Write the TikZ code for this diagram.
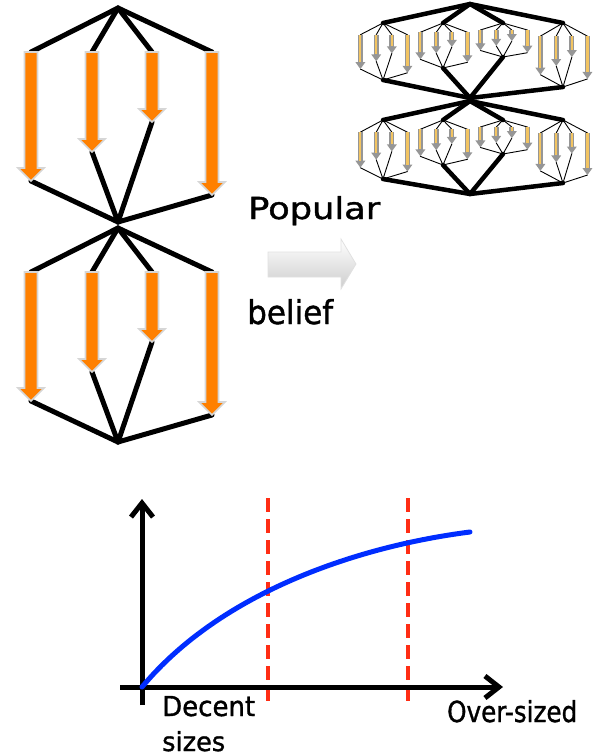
\documentclass[tikz,border=0pt]{standalone}
\usepackage{fontspec}
\setmainfont{DejaVu Sans}
\newfontfamily\lblfont{DejaVu Sans}[FakeBold=1.2]
\usetikzlibrary{arrows.meta,calc}
\definecolor{arrorange}{RGB}{255,128,0}
\definecolor{arrglow}{RGB}{214,214,214}
\definecolor{minigray}{RGB}{150,150,150}
\definecolor{miniyel}{RGB}{242,196,98}
\definecolor{curveblue}{RGB}{0,45,255}
\definecolor{dashred}{RGB}{255,45,20}
\definecolor{beliefgray}{RGB}{225,225,225}

% coordinates of one half diagram (hub at origin, bottom hub at (0,214))
\newcommand\halfpts[1]{%
  \coordinate (#1T) at (0,0);
  \coordinate (#1a1) at (-87,44);
  \coordinate (#1a2) at (-26,44);
  \coordinate (#1a3) at (34,44);
  \coordinate (#1a4) at (94,44);
  \coordinate (#1e1) at (-87,173);
  \coordinate (#1e2) at (-26,144);
  \coordinate (#1e3) at (34,114);
  \coordinate (#1e4) at (94,187);
  \coordinate (#1B) at (0,214);}
\newcommand\halflines[2]{%
  \draw[#2] (#1T) -- (#1a1);
  \draw[#2] (#1T) -- (#1a2);
  \draw[#2] (#1T) -- (#1a3);
  \draw[#2] (#1T) -- (#1a4);
  \draw[#2] (#1e1) -- (#1B);
  \draw[#2] (#1e2) -- (#1B);
  \draw[#2] (#1e3) -- (#1B);
  \draw[#2] (#1e4) -- (#1B);}
\newcommand\bigarr[2]{%
  \path[bigarrow] ($(#1)+(-6.5,0)$) -- ($(#1)+(6.5,0)$) -- ($(#2)+(6.5,-13)$)
    -- ($(#2)+(13,-13)$) -- (#2) -- ($(#2)+(-13,-13)$) -- ($(#2)+(-6.5,-13)$) -- cycle;}
\newcommand\bighalf[1]{%
  \halflines{#1}{bigline}
  \foreach \i in {1,...,4}{\bigarr{#1a\i}{#1e\i}}}
\newcommand\minihalf[1]{%
  \halflines{#1}{miniline}
  \foreach \i in {1,...,4}{%
    \draw[miniarrow] (#1a\i) -- (#1e\i);
    \draw[ministripe] (#1a\i) -- ($(#1e\i)+(0,-7)$);}}
% mini diagram: prefix, centre x, top y, bottom y
\newcommand\minidiag[4]{%
  \pgfmathsetmacro\mys{(#4-#3)/214}
  \begin{scope}[shift={(#2,#3)}, xscale=0.26, yscale=\mys]
    \halfpts{#1}
  \end{scope}
  \minihalf{#1}}

\begin{document}
\begin{tikzpicture}[x=1pt,y=-1pt,
  bigline/.style={line width=5pt, line cap=round, black},
  thickline/.style={line width=4.5pt, line cap=round, black},
  miniline/.style={line width=0.9pt, line cap=round, black},
  bigarrow/.style={fill=arrorange, draw=arrglow, line width=1.6pt, line join=miter},
  miniarrow/.style={line width=5.2pt, minigray, -{Triangle[width=9.5pt,length=7pt]}},
  ministripe/.style={line width=2.2pt, miniyel},
  axisline/.style={line width=5pt, black, -{Straight Barb[length=14pt,width=22pt]}},
  redline/.style={line width=4.5pt, dashred, dash pattern=on 14pt off 7pt},
  curve/.style={line width=5pt, curveblue, line cap=round},
  lbl/.style={anchor=base west, inner sep=0pt, font=\lblfont}]
\useasboundingbox (0,0) rectangle (601,756);

% ---------- left big diagram ----------
\begin{scope}[shift={(118,8)}]\halfpts{L}\end{scope}
\begin{scope}[shift={(118,228)}]\halfpts{M}\end{scope}
\bighalf{L}
\bighalf{M}

% ---------- top right diagram ----------
\coordinate (RT) at (470,4);
\coordinate (RM1) at (470,98);
\coordinate (RM2) at (470,101);
\coordinate (RB) at (470,194);
\minidiag{P1}{383}{23}{80}
\minidiag{P2}{443}{23}{68}
\minidiag{P3}{503}{23}{57}
\minidiag{P4}{563}{23}{87}
\minidiag{Q1}{383}{120}{179}
\minidiag{Q2}{443}{120}{165}
\minidiag{Q3}{503}{120}{154}
\minidiag{Q4}{563}{120}{183}
\foreach \i in {1,...,4}{%
  \draw[thickline] (RT) -- (P\i T);
  \draw[thickline] (P\i B) -- (RM1);
  \draw[thickline] (RM2) -- (Q\i T);
  \draw[thickline] (Q\i B) -- (RB);}

% ---------- popular belief arrow ----------
\path[top color=white, bottom color=beliefgray!80!gray, draw=beliefgray, line width=0.8pt]
  (268,252) -- (341,252) -- (341,239) -- (356,264) -- (341,289) -- (341,277) -- (268,277) -- cycle;
\node[lbl] (popular) at (248,219) {\resizebox{132pt}{23pt}{Popular}};
\node[lbl] (belief) at (247,324) {\resizebox{86pt}{25pt}{belief}};

% ---------- chart ----------
\coordinate (O) at (142,687);
\coordinate (ybot) at (142,705);
\coordinate (ytop) at (142,499);
\coordinate (xleft) at (120,687);
\coordinate (xright) at (503,687);
\coordinate (r1t) at (268,498);
\coordinate (r1b) at (268,705);
\coordinate (r2t) at (408,498);
\coordinate (r2b) at (408,705);
\coordinate (cend) at (470,532);
\draw[redline] (r1t) -- (r1b);
\draw[redline] (r2t) -- (r2b);
\draw[axisline] (ybot) -- (ytop);
\draw[axisline] (xleft) -- (xright);
\draw[curve] (O) .. controls (222,591) and (360,546) .. (cend);

\node[lbl] (decent) at (162,716) {\resizebox{93pt}{20pt}{Decent}};
\node[lbl] (sizes) at (162,751) {\resizebox{63pt}{20pt}{sizes}};
\node[lbl] (oversized) at (447,722) {\resizebox{130pt}{22pt}{Over-sized}};
\end{tikzpicture}
\end{document}
